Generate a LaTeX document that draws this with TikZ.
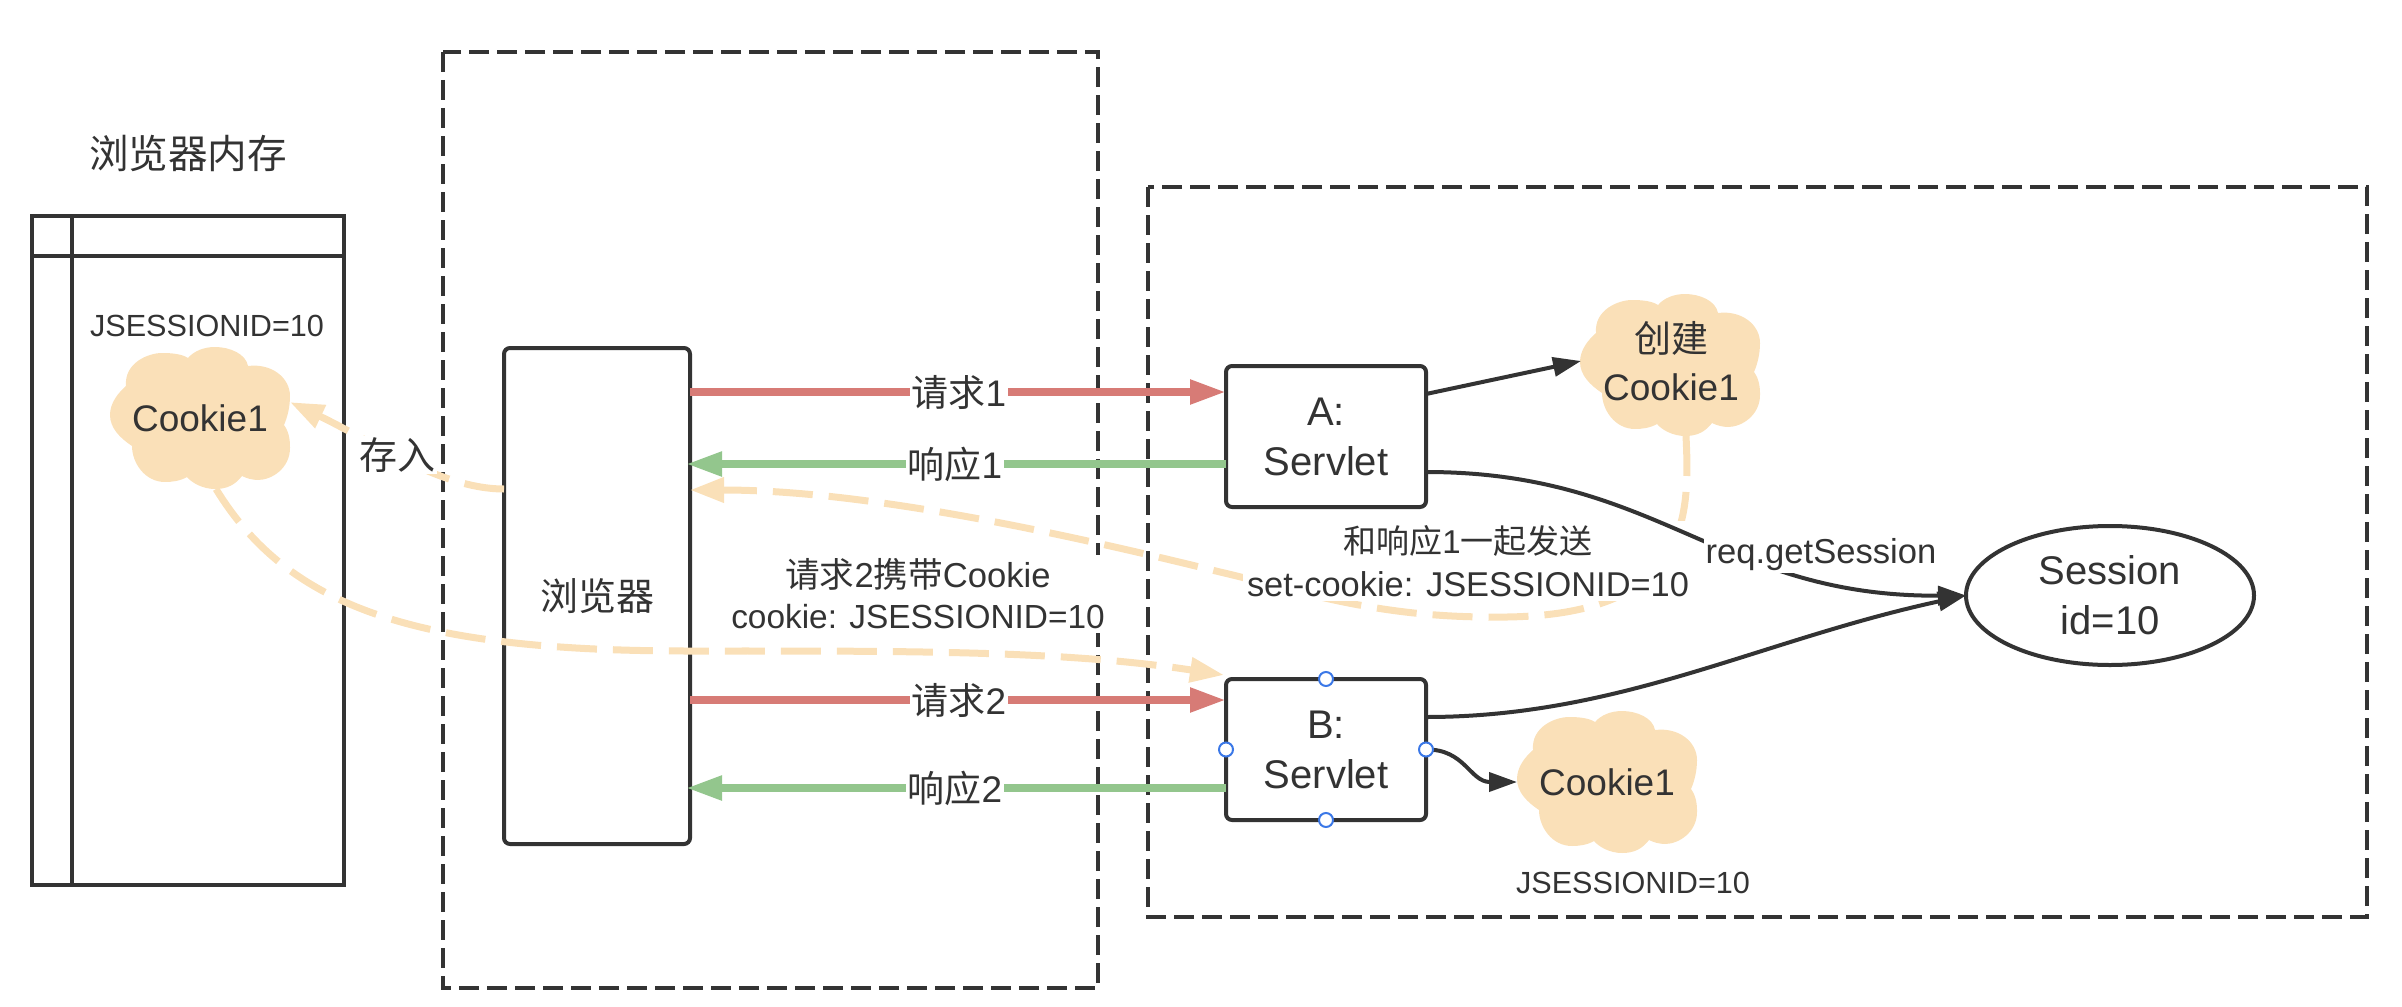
\documentclass[tikz,border=0pt]{standalone}
\usepackage{fontspec}
\setmainfont{Liberation Sans}
\newfontfamily\cjk{Noto Sans CJK SC}
\usetikzlibrary{arrows.meta,calc,shapes.geometric}
\definecolor{ink}{HTML}{333333}
\definecolor{reqred}{HTML}{D77B76}
\definecolor{respgreen}{HTML}{93C68D}
\definecolor{cookiefill}{HTML}{FAE0B8}
\definecolor{handleblue}{HTML}{3B78E7}
\newcommand{\zh}[1]{{\cjk #1}}
\newcommand{\fs}[2]{\fontsize{#1}{#2}\selectfont}
\tikzset{
  frame/.style={draw=ink,line width=2pt,dash pattern=on 10pt off 4pt},
  boxnode/.style={draw=ink,line width=2pt,fill=white,rounded corners=3pt,outer sep=0pt,inner sep=0pt,
    text=ink,align=center,font=\fs{20}{25}},
  txt/.style={text=ink,align=center,inner sep=1pt},
  lab/.style={txt,fill=white,font=\fs{18.5}{22}},
  smalltxt/.style={txt,font=\fs{15.3}{18}},
  cloudtxt/.style={text=ink,align=center,inner sep=0pt,outer sep=0pt,font=\fs{18.5}{24},
    minimum width=90pt,minimum height=71pt},
  reqline/.style={draw=reqred,line width=4pt,-{Triangle[length=18pt,width=11.5pt]}},
  respline/.style={draw=respgreen,line width=4pt,-{Triangle[length=18pt,width=11.5pt]}},
  cookieline/.style={draw=cookiefill,line width=3.5pt,dash pattern=on 20pt off 8pt,
    -{Triangle[length=17pt,width=12pt]}},
  callline/.style={draw=ink,line width=2pt,-{Triangle[length=14pt,width=9.5pt]}},
  handle/.style={circle,draw=handleblue,fill=white,line width=1pt,minimum size=7pt,inner sep=0pt},
  puff/.pic={
    \fill[cookiefill] (-74,-32)
      .. controls (-76,-55) and (-52,-65) .. (-38,-65)
      .. controls (-28,-65) and (-18,-64) .. (-12,-60)
      .. controls (-6,-67) and (4,-71) .. (15,-71)
      .. controls (30,-71) and (46,-64) .. (48,-52)
      .. controls (72,-55) and (90,-40) .. (90,-22)
      .. controls (90,-10) and (87,0) .. (84,7)
      .. controls (90,15) and (90,25) .. (90,30)
      .. controls (90,50) and (72,62) .. (58,62)
      .. controls (52,62) and (46,60) .. (42,58)
      .. controls (35,67) and (27,71) .. (15,71)
      .. controls (3,71) and (-8,65) .. (-13,59)
      .. controls (-20,63) and (-28,64) .. (-35,64)
      .. controls (-55,64) and (-68,45) .. (-68,28)
      .. controls (-80,20) and (-90,10) .. (-90,-3)
      .. controls (-90,-15) and (-82,-25) .. (-74,-32) -- cycle;
  }
}
\begin{document}
\begin{tikzpicture}[x=0.5pt,y=-0.5pt]
\useasboundingbox (0,0) rectangle (2402,1006);

% dashed frames
\draw[frame] (443,52) rectangle (1098,988);
\draw[frame] (1148,187) rectangle (2367,917);

% browser memory table
\node[draw=ink,line width=2pt,minimum width=156pt,minimum height=334.5pt,inner sep=0pt,outer sep=0pt]
  (memtable) at (188,550.5) {};
\coordinate (colTop) at ($(memtable.north west)+(40,0)$);
\coordinate (rowLeft) at ($(memtable.north west)+(0,40)$);
\draw[ink,line width=2pt] (colTop) -- (colTop |- memtable.south);
\draw[ink,line width=2pt] (rowLeft) -- (rowLeft -| memtable.east);
\node[txt,font=\fs{19.8}{24}] (memtitle) at (188,153) {\zh{浏览器内存}};
\node[smalltxt] (memid) at (207,326) {JSESSIONID=10};

% clouds
\pic at (200,418) {puff};
\node[cloudtxt] (cookieMem) at (200,418) {Cookie1};
\pic at (1670,365) {puff};
\node[cloudtxt] (cookieNew) at (1671,361) {\zh{创建}\\Cookie1};
\pic at (1607,782) {puff};
\node[cloudtxt] (cookieB) at (1607,782) {Cookie1};
\node[smalltxt] (bid) at (1633,883) {JSESSIONID=10};

% browser, servlets, session
\node[boxnode,minimum width=93pt,minimum height=248pt] (browser) at (597,596) {\fs{19}{24}\zh{浏览器}};
\node[boxnode,minimum width=100pt,minimum height=70.5pt] (servA) at (1326,436.5) {A:\\Servlet};
\node[boxnode,minimum width=100pt,minimum height=70.5pt] (servB) at (1326,749.5) {B:\\Servlet};
\node[boxnode,sharp corners,shape=ellipse,minimum width=144pt,minimum height=69.5pt] (session) at (2110,595.5) {Session\\id=10};

% connection points along the box sides
\coordinate (aIn) at ($(servA.north west)+(0,26)$);
\coordinate (aOut) at ($(servA.north west)+(0,98)$);
\coordinate (bIn) at ($(servB.north west)+(0,21)$);
\coordinate (bOut) at ($(servB.north west)+(0,109)$);
\coordinate (browserStore) at ($(browser.north east)+(0,142)$);
\coordinate (browserLeft) at ($(browser.north west)+(0,141)$);
\coordinate (browserTip) at ($(browser.east)+(-4,0)$);
\coordinate (aTop) at ($(servA.north east)+(0,28)$);
\coordinate (aLow) at ($(servA.north east)+(0,106)$);
\coordinate (bHigh) at ($(servB.north east)+(0,38)$);
\coordinate (bEntry) at ($(servB.north west)+(-2,-4)$);

% request and response arrows
\draw[reqline] (browser.east |- aIn) -- node[lab,pos=.5,xshift=.5pt] (req1) {\zh{请求}1} (aIn);
\draw[respline] (aOut) -- node[lab,pos=.5,xshift=-.5pt] (resp1) {\zh{响应}1} (browserTip |- aOut);
\draw[reqline] (browser.east |- bIn) -- node[lab,pos=.5,xshift=.5pt] (req2) {\zh{请求}2} (bIn);
\draw[respline] (bOut) -- node[lab,pos=.5,xshift=-.5pt] (resp2) {\zh{响应}2} (browserTip |- bOut);

% cookie flow
\draw[cookieline] (browserLeft) .. controls (440,489) and (370,440) .. (cookieMem.10);
\draw[cookieline] ($(cookieNew.south)+(15,4)$)
  .. controls (1690,520) and (1690,620) .. (1490,617)
  .. controls (1370,617) and (1290,588) .. (1220,572)
  .. controls (1050,530) and (860,490) .. (browserStore);
\draw[cookieline] ($(cookieMem.south)+(16,0)$)
  .. controls (290,610) and (420,651) .. (690,651)
  .. controls (900,651) and (1060,650) .. (bEntry);

% captions with a white ground
\node[lab,font=\fs{19}{24}] (store) at (397,455) {\zh{存入}};
\node[txt,fill=white,font=\fs{16.7}{20.5},inner sep=2pt] (carry) at (918,594) {{\fs{17.3}{20.5}\zh{请求}2\zh{携带}Cookie}\\cookie: JSESSIONID=10};
\node[txt,fill=white,font=\fs{16.5}{21.5},inner sep=2pt] (sendwith) at (1468,561) {\zh{和响应}1\zh{一起发送}\\{\fs{17.2}{21.5}set-cookie: JSESSIONID=10}};

% servlet calls
\draw[callline] (aTop) -- (cookieNew.west);
\draw[callline] (aLow) .. controls (1660,472) and (1720,597) .. (session.west);
\draw[callline] (bHigh) .. controls (1620,717) and (1760,640) .. (session.west);
\draw[callline] (servB.east) .. controls (1465,749) and (1470,782) .. (cookieB.west);
\node[txt,fill=white,font=\fs{17.3}{20}] (getsession) at (1821,555) {req.getSession};

% selection handles on servlet B
\node[handle] (hN) at (servB.north) {};
\node[handle] (hS) at (servB.south) {};
\node[handle] (hW) at (servB.west) {};
\node[handle] (hE) at (servB.east) {};
\end{tikzpicture}
\end{document}
